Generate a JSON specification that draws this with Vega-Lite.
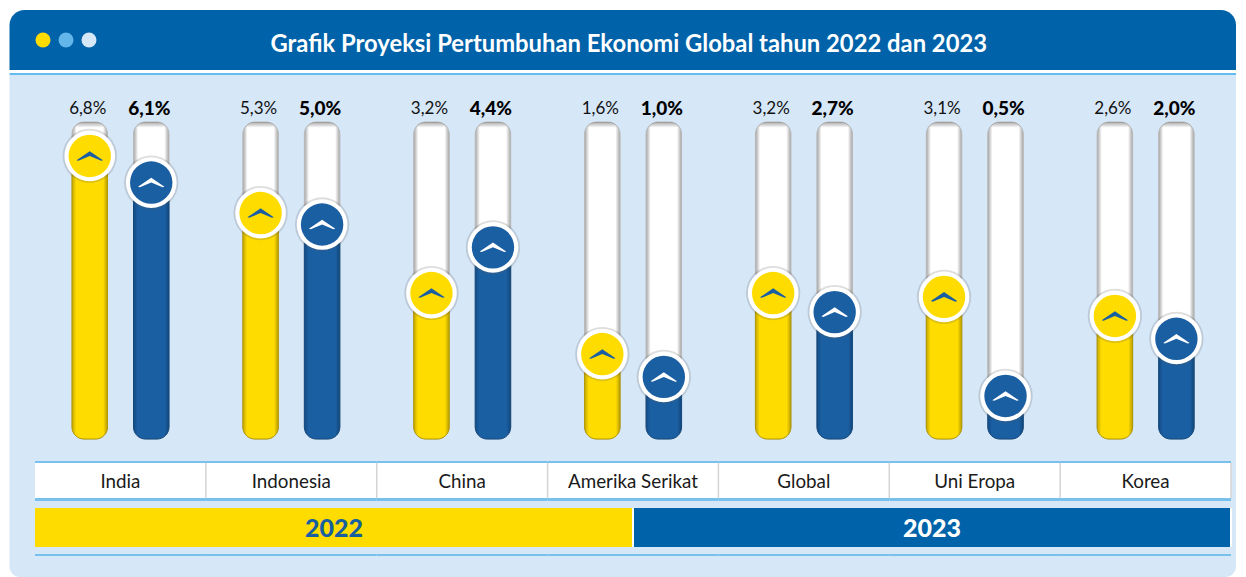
{
"$schema":"https://vega.github.io/schema/vega-lite/v6.json",
"padding":{"left":9.5,"top":10,"right":0,"bottom":0},
"autosize":{"type":"pad"},
"background":"#ffffff",
"bounds":"flush",
"spacing":0,
"config":{"view":{"stroke":null},"concat":{"spacing":0}},
"datasets":{
"rows":[
{"country":"India","year":"2022","value":6.8,"label":"6,8%"},
{"country":"India","year":"2023","value":6.1,"label":"6,1%"},
{"country":"Indonesia","year":"2022","value":5.3,"label":"5,3%"},
{"country":"Indonesia","year":"2023","value":5.0,"label":"5,0%"},
{"country":"China","year":"2022","value":3.2,"label":"3,2%"},
{"country":"China","year":"2023","value":4.4,"label":"4,4%"},
{"country":"Amerika Serikat","year":"2022","value":1.6,"label":"1,6%"},
{"country":"Amerika Serikat","year":"2023","value":1.0,"label":"1,0%"},
{"country":"Global","year":"2022","value":3.2,"label":"3,2%"},
{"country":"Global","year":"2023","value":2.7,"label":"2,7%"},
{"country":"Uni Eropa","year":"2022","value":3.1,"label":"3,1%"},
{"country":"Uni Eropa","year":"2023","value":0.5,"label":"0,5%"},
{"country":"Korea","year":"2022","value":2.6,"label":"2,6%"},
{"country":"Korea","year":"2023","value":2.0,"label":"2,0%"}
],
"countries":[{"country":"India"},{"country":"Indonesia"},{"country":"China"},{"country":"Amerika Serikat"},{"country":"Global"},{"country":"Uni Eropa"},{"country":"Korea"}],
"years":[{"year":"2022"},{"year":"2023"}],
"dots":[{"dot":"a"},{"dot":"b"},{"dot":"c"}],
"one":[{"title":"Grafik Proyeksi Pertumbuhan Ekonomi Global tahun 2022 dan 2023"}]
},
"vconcat":[
{"width":1226.5,"height":60,"layer":[
{"data":{"name":"one"},"mark":{"type":"rect","fill":"#0062a8","cornerRadiusTopLeft":15,"cornerRadiusTopRight":15},"encoding":{}},
{"data":{"name":"dots"},"mark":{"type":"point","filled":true,"opacity":1,"size":225},"encoding":{
"x":{"field":"dot","type":"nominal","axis":null,"scale":{"type":"point","padding":0,"range":[33.5,79.5]}},
"color":{"field":"dot","type":"nominal","legend":null,"scale":{"domain":["a","b","c"],"range":["#ffdc00","#62b6ea","#d6e7f8"]}}}},
{"data":{"name":"one"},"mark":{"type":"text","font":"Lato","fontWeight":"bold","fontSize":23.8,"color":"#ffffff","dx":6,"dy":4.5},"encoding":{"text":{"field":"title"}}}
]},
{"width":1226.5,"height":3,"data":{"name":"one"},"mark":{"type":"rect","fill":"#ffffff"},"encoding":{}},
{"width":1226.5,"height":2,"data":{"name":"one"},"mark":{"type":"rect","fill":"#62bdee"},"encoding":{}},
{"width":1226.5,"height":386,"view":{"fill":"#d6e7f8"},"data":{"name":"rows"},
"encoding":{
"x":{"field":"country","type":"nominal","sort":null,"axis":null,"scale":{"type":"band","range":[25.5,1221.5],"paddingInner":0,"paddingOuter":0}},
"xOffset":{"field":"year","type":"nominal","scale":{"type":"band","domain":["2022","2023"],"range":[37,134],"paddingInner":0.4228,"paddingOuter":0}}
},
"layer":[
{"mark":{"type":"bar","cornerRadius":12,"stroke":"#b8b8b8","strokeWidth":1,"fill":{"gradient":"linear","x1":0,"y1":0,"x2":1,"y2":0,"stops":[{"offset":0,"color":"#a4a4a4"},{"offset":0.13,"color":"#ffffff"},{"offset":0.87,"color":"#ffffff"},{"offset":1,"color":"#a4a4a4"}]}},
"encoding":{"y":{"datum":7.69,"type":"quantitative","axis":null,"scale":{"domain":[-0.63,7.69],"range":[364,47]}},"y2":{"datum":-0.63}}},
{"mark":{"type":"bar","cornerRadius":12,"fill":{"gradient":"linear","x1":0,"y1":0,"x2":0,"y2":1,"stops":[{"offset":0,"color":"rgba(110,110,110,0.6)"},{"offset":0.018,"color":"rgba(110,110,110,0)"},{"offset":1,"color":"rgba(110,110,110,0)"}]}},
"encoding":{"y":{"datum":7.69,"type":"quantitative","axis":null,"scale":{"domain":[-0.63,7.69],"range":[364,47]}},"y2":{"datum":-0.63}}},
{"transform":[{"filter":"datum.year==='2022'"}],
"mark":{"type":"bar","cornerRadius":12,"stroke":"#b49a00","strokeWidth":1,"fill":{"gradient":"linear","x1":0,"y1":0,"x2":1,"y2":0,"stops":[{"offset":0,"color":"#c2a600"},{"offset":0.12,"color":"#ffdc00"},{"offset":0.88,"color":"#ffdc00"},{"offset":1,"color":"#b89c00"}]}},
"encoding":{"y":{"field":"value","type":"quantitative","stack":null,"axis":null,"scale":{"domain":[-0.63,7.69],"range":[364,47]}},"y2":{"datum":-0.63}}},
{"transform":[{"filter":"datum.year==='2023'"}],
"mark":{"type":"bar","cornerRadius":12,"stroke":"#124a80","strokeWidth":1,"fill":{"gradient":"linear","x1":0,"y1":0,"x2":1,"y2":0,"stops":[{"offset":0,"color":"#134a82"},{"offset":0.12,"color":"#1b5fa3"},{"offset":0.88,"color":"#1b5fa3"},{"offset":1,"color":"#124578"}]}},
"encoding":{"y":{"field":"value","type":"quantitative","stack":null,"axis":null,"scale":{"domain":[-0.63,7.69],"range":[364,47]}},"y2":{"datum":-0.63}}},
{"mark":{"type":"point","filled":true,"size":2950,"color":"#555555","opacity":0.2},
"encoding":{"y":{"field":"value","type":"quantitative","axis":null,"scale":{"domain":[-0.63,7.69],"range":[364,47]}}}},
{"mark":{"type":"point","filled":true,"size":2570,"color":"#ffffff","opacity":1},
"encoding":{"y":{"field":"value","type":"quantitative","axis":null,"scale":{"domain":[-0.63,7.69],"range":[364,47]}}}},
{"mark":{"type":"point","filled":true,"size":1800,"opacity":1},
"encoding":{"y":{"field":"value","type":"quantitative","axis":null,"scale":{"domain":[-0.63,7.69],"range":[364,47]}},
"color":{"field":"year","type":"nominal","legend":null,"scale":{"domain":["2022","2023"],"range":["#ffdc00","#1b5fa3"]}}}},
{"mark":{"type":"point","filled":true,"size":700,"opacity":1,"shape":"M0,-0.36 L1,0.32 L0.86,0.36 L0,0 L-0.86,0.36 L-1,0.32 Z"},
"encoding":{"y":{"field":"value","type":"quantitative","axis":null,"scale":{"domain":[-0.63,7.69],"range":[364,47]}},
"color":{"field":"year","type":"nominal","legend":null,"scale":{"domain":["2022","2023"],"range":["#1b5fa3","#ffffff"]}}}},
{"transform":[{"filter":"datum.year==='2022'"}],"mark":{"type":"text","font":"Lato","fontSize":17,"color":"#111111","dx":-2,"dy":2},
"encoding":{"y":{"datum":8.08,"type":"quantitative","axis":null,"scale":{"domain":[-0.63,7.69],"range":[364,47]}},"text":{"field":"label"}}},
{"transform":[{"filter":"datum.year==='2023'"}],"mark":{"type":"text","font":"Lato","fontWeight":900,"fontSize":19,"color":"#000000","dx":-2,"dy":2},
"encoding":{"y":{"datum":8.08,"type":"quantitative","axis":null,"scale":{"domain":[-0.63,7.69],"range":[364,47]}},"text":{"field":"label"}}}
],"resolve":{"scale":{"color":"independent"}}},
{"width":1226.5,"height":2,"view":{"fill":"#d6e7f8"},"data":{"name":"countries"},"mark":{"type":"rect","fill":"#78c1ed"},
"encoding":{"x":{"field":"country","type":"nominal","sort":null,"axis":null,"scale":{"type":"band","range":[25.5,1221.5],"paddingInner":0,"paddingOuter":0}}}},
{"width":1226.5,"height":35,"view":{"fill":"#d6e7f8"},"data":{"name":"countries"},
"encoding":{"x":{"field":"country","type":"nominal","sort":null,"axis":null,"scale":{"type":"band","range":[25.5,1221.5],"paddingInner":0,"paddingOuter":0}}},
"layer":[
{"mark":{"type":"rect","fill":"#ffffff"}},
{"mark":{"type":"rule","color":"#d4d4d4","strokeWidth":1.5},"encoding":{"x":{"field":"country","type":"nominal","sort":null,"bandPosition":1,"axis":null,"scale":{"type":"band","range":[25.5,1221.5],"paddingInner":0,"paddingOuter":0}}}},
{"mark":{"type":"text","font":"Lato","fontSize":18.8,"color":"#1a1a1a","dy":1},"encoding":{"text":{"field":"country"}}}
]},
{"width":1226.5,"height":3,"view":{"fill":"#d6e7f8"},"data":{"name":"countries"},"mark":{"type":"rect","fill":"#78c1ed"},
"encoding":{"x":{"field":"country","type":"nominal","sort":null,"axis":null,"scale":{"type":"band","range":[25.5,1221.5],"paddingInner":0,"paddingOuter":0}}}},
{"width":1226.5,"height":7,"view":{"fill":"#d6e7f8"},"data":{"name":"one"},"mark":{"type":"rect","fillOpacity":0},"encoding":{}},
{"width":1226.5,"height":39,"view":{"fill":"#d6e7f8"},"data":{"name":"years"},
"encoding":{"x":{"field":"year","type":"nominal","axis":null,"scale":{"type":"band","domain":["2022","2023"],"range":[25.5,1221.5],"paddingInner":0,"paddingOuter":0}}},
"layer":[
{"mark":{"type":"rect"},"encoding":{"color":{"field":"year","type":"nominal","legend":null,"scale":{"domain":["2022","2023"],"range":["#ffdc00","#0062a8"]}}}},
{"mark":{"type":"rule","color":"#ffffff","strokeWidth":2},"encoding":{"x":{"field":"year","type":"nominal","bandPosition":1,"axis":null,"scale":{"type":"band","domain":["2022","2023"],"range":[25.5,1221.5],"paddingInner":0,"paddingOuter":0}}}},
{"mark":{"type":"text","font":"Lato","fontWeight":900,"fontSize":25,"dy":1},"encoding":{"text":{"field":"year"},"color":{"field":"year","type":"nominal","legend":null,"scale":{"domain":["2022","2023"],"range":["#17609f","#ffffff"]}}}}
],"resolve":{"scale":{"color":"independent"}}},
{"width":1226.5,"height":7,"view":{"fill":"#d6e7f8"},"data":{"name":"one"},"mark":{"type":"rect","fillOpacity":0},"encoding":{}},
{"width":1226.5,"height":2,"view":{"fill":"#d6e7f8"},"data":{"name":"countries"},"mark":{"type":"rect","fill":"#78c1ed"},
"encoding":{"x":{"field":"country","type":"nominal","sort":null,"axis":null,"scale":{"type":"band","range":[25.5,1221.5],"paddingInner":0,"paddingOuter":0}}}},
{"width":1226.5,"height":21,"data":{"name":"one"},"mark":{"type":"rect","fill":"#d6e7f8","cornerRadiusBottomLeft":12,"cornerRadiusBottomRight":12},"encoding":{}}
]
}
